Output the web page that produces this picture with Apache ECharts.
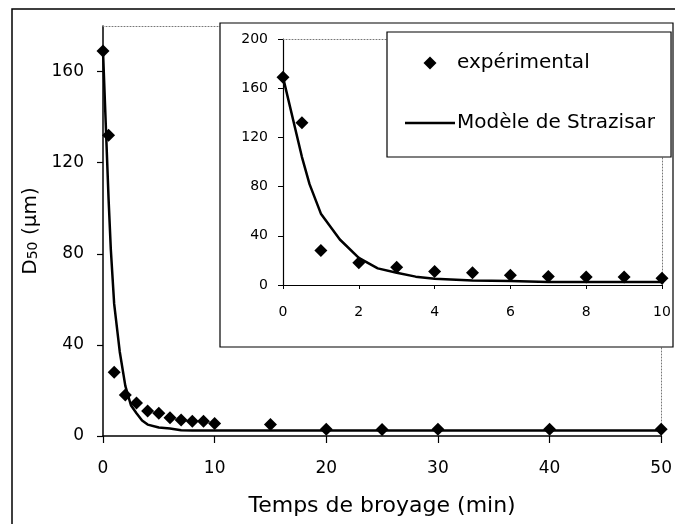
<!DOCTYPE html>
<html>
<head>
<meta charset="utf-8">
<script src="https://cdn.jsdelivr.net/npm/echarts@6/dist/echarts.min.js"></script>
<style>
html,body{margin:0;padding:0;background:#fff;}
#c{width:675px;height:524px;}
</style>
</head>
<body>
<div id="c"></div>
<script>
// Experimental data: grinding time (min) and D50 (µm)
var expTime = [0, 0.5, 1, 2, 3, 4, 5, 6, 7, 8, 9, 10, 15, 20, 25, 30, 40, 50];
var expD50  = [169, 132, 28, 18, 14.5, 11, 10, 8, 7, 6.5, 6.5, 5.5, 5, 3, 2.8, 3, 3, 3];
// Strazisar model curve
var modelTime = [0, 0.5, 0.7, 1, 1.5, 2, 2.5, 3, 3.5, 4, 5, 6, 7, 8, 10, 15, 20, 25, 30, 40, 50];
var modelD50  = [169, 104, 82, 58, 37, 22, 13.5, 10, 6.8, 5, 3.7, 3.3, 2.5, 2.4, 2.4, 2.4, 2.4, 2.4, 2.4, 2.4, 2.4];
// Tick labels
var mainYTicks = [0, 40, 80, 120, 160];
var insetYTicks = [0, 40, 80, 120, 160, 200];
var seriesNames = ['expérimental', 'Modèle de Strazisar'];

function zip(a, b) { return a.map(function (v, i) { return [v, b[i]]; }); }
var expPts = zip(expTime, expD50);
var modelPts = zip(modelTime, modelD50);

var FF = 'DejaVu Sans';
var chart = echarts.init(document.getElementById('c'), null, { renderer: 'canvas' });

function dottedAxis(extra) {
  return Object.assign({
    type: 'value',
    axisLine: { show: true, onZero: false, lineStyle: { color: '#777', width: 1, type: [1, 2] } },
    axisTick: { show: false },
    axisLabel: { show: false },
    splitLine: { show: false }
  }, extra);
}

var option = {
  animation: false,
  backgroundColor: '#fff',
  textStyle: { fontFamily: FF, color: '#000' },
  grid: [
    { left: 103, right: 5, top: 26, bottom: 88 },
    { left: 283, right: 13, top: 39, bottom: 239 }
  ],
  xAxis: [
    {
      type: 'value', gridIndex: 0, min: 0, max: 50, interval: 10,
      name: 'Temps de broyage (min)', nameLocation: 'middle', nameGap: 59,
      nameTextStyle: { fontFamily: FF, fontSize: 22, color: '#000' },
      axisLine: { show: true, onZero: false, lineStyle: { color: '#000', width: 1.5 } },
      axisTick: { show: true, length: 7, lineStyle: { color: '#000', width: 1.2 } },
      axisLabel: { fontFamily: FF, fontSize: 17, color: '#000', margin: 24 },
      splitLine: { show: false }
    },
    dottedAxis({ gridIndex: 0, position: 'top', min: 0, max: 50 }),
    {
      type: 'value', gridIndex: 1, min: 0, max: 10, interval: 2, z: 6,
      axisLine: { show: true, onZero: false, lineStyle: { color: '#000', width: 1.2 } },
      axisTick: { show: true, length: 4, lineStyle: { color: '#000', width: 1 } },
      axisLabel: { fontFamily: FF, fontSize: 14, color: '#000', margin: 20 },
      splitLine: { show: false }
    },
    dottedAxis({ gridIndex: 1, position: 'top', min: 0, max: 10, z: 6 })
  ],
  yAxis: [
    {
      type: 'value', gridIndex: 0, min: 0, max: 180, interval: 40,
      name: '{m|D}{s|50}{m| (µm)}', nameLocation: 'middle', nameRotate: 90, nameGap: 52,
      nameTextStyle: {
        fontFamily: FF, color: '#000',
        rich: {
          m: { fontFamily: FF, fontSize: 20, color: '#000' },
          s: { fontFamily: FF, fontSize: 14, color: '#000', verticalAlign: 'bottom' }
        }
      },
      axisLine: { show: true, onZero: false, lineStyle: { color: '#000', width: 1.5 } },
      axisTick: { show: true, length: 6, customValues: mainYTicks, lineStyle: { color: '#000', width: 1.2 } },
      axisLabel: { fontFamily: FF, fontSize: 17, color: '#000', margin: 19, customValues: mainYTicks },
      splitLine: { show: false }
    },
    dottedAxis({ gridIndex: 0, position: 'right', min: 0, max: 180 }),
    {
      type: 'value', gridIndex: 1, min: 0, max: 200, interval: 40, z: 6,
      axisLine: { show: true, onZero: false, lineStyle: { color: '#000', width: 1.2 } },
      axisTick: { show: true, length: 5, customValues: insetYTicks, lineStyle: { color: '#000', width: 1 } },
      axisLabel: { fontFamily: FF, fontSize: 14, color: '#000', margin: 15, customValues: insetYTicks },
      splitLine: { show: false }
    },
    dottedAxis({ gridIndex: 1, position: 'right', min: 0, max: 200, z: 6 })
  ],
  legend: {
    orient: 'vertical', left: 387, top: 32,
    padding: [21, 16, 24, 18], itemGap: 40,
    itemWidth: 50, itemHeight: 13,
    selectedMode: false,
    backgroundColor: '#fff', borderColor: '#000', borderWidth: 1.2,
    z: 8,
    itemStyle: { opacity: 1 },
    textStyle: { fontFamily: FF, fontSize: 20, color: '#000', padding: [0, 0, 0, -3] },
    data: [
      { name: seriesNames[0], icon: 'path://M0,-6L6,0L0,6L-6,0Z' },
      { name: seriesNames[1], icon: 'path://M0,0L50,0L50,2.5L0,2.5Z' }
    ]
  },
  graphic: [
    { type: 'rect', z: 0, silent: true,
      shape: { x: 12, y: 9, width: 700, height: 600 },
      style: { fill: 'none', stroke: '#000', lineWidth: 1.5 } },
    { type: 'rect', z: 5, silent: true,
      shape: { x: 220, y: 23, width: 453, height: 324 },
      style: { fill: '#fff', stroke: '#000', lineWidth: 1.2 } }
  ],
  series: [
    {
      name: seriesNames[1], type: 'line', xAxisIndex: 0, yAxisIndex: 0,
      data: modelPts, showSymbol: false, symbol: 'none', color: '#000',
      lineStyle: { color: '#000', width: 2.5 }, z: 2
    },
    {
      name: seriesNames[0], type: 'scatter', xAxisIndex: 0, yAxisIndex: 0,
      data: expPts, symbol: 'diamond', symbolSize: 13, clip: false,
      itemStyle: { color: '#000', opacity: 1 }, color: '#000', z: 3
    },
    {
      name: seriesNames[1], type: 'line', xAxisIndex: 2, yAxisIndex: 2,
      data: modelPts, showSymbol: false, symbol: 'none', color: '#000',
      lineStyle: { color: '#000', width: 2.5 }, z: 7
    },
    {
      name: seriesNames[0], type: 'scatter', xAxisIndex: 2, yAxisIndex: 2,
      data: expPts.filter(function (p) { return p[0] <= 10; }),
      symbol: 'diamond', symbolSize: 13, clip: false,
      itemStyle: { color: '#000', opacity: 1 }, color: '#000', z: 7
    }
  ]
};
chart.setOption(option);
</script>
</body>
</html>
